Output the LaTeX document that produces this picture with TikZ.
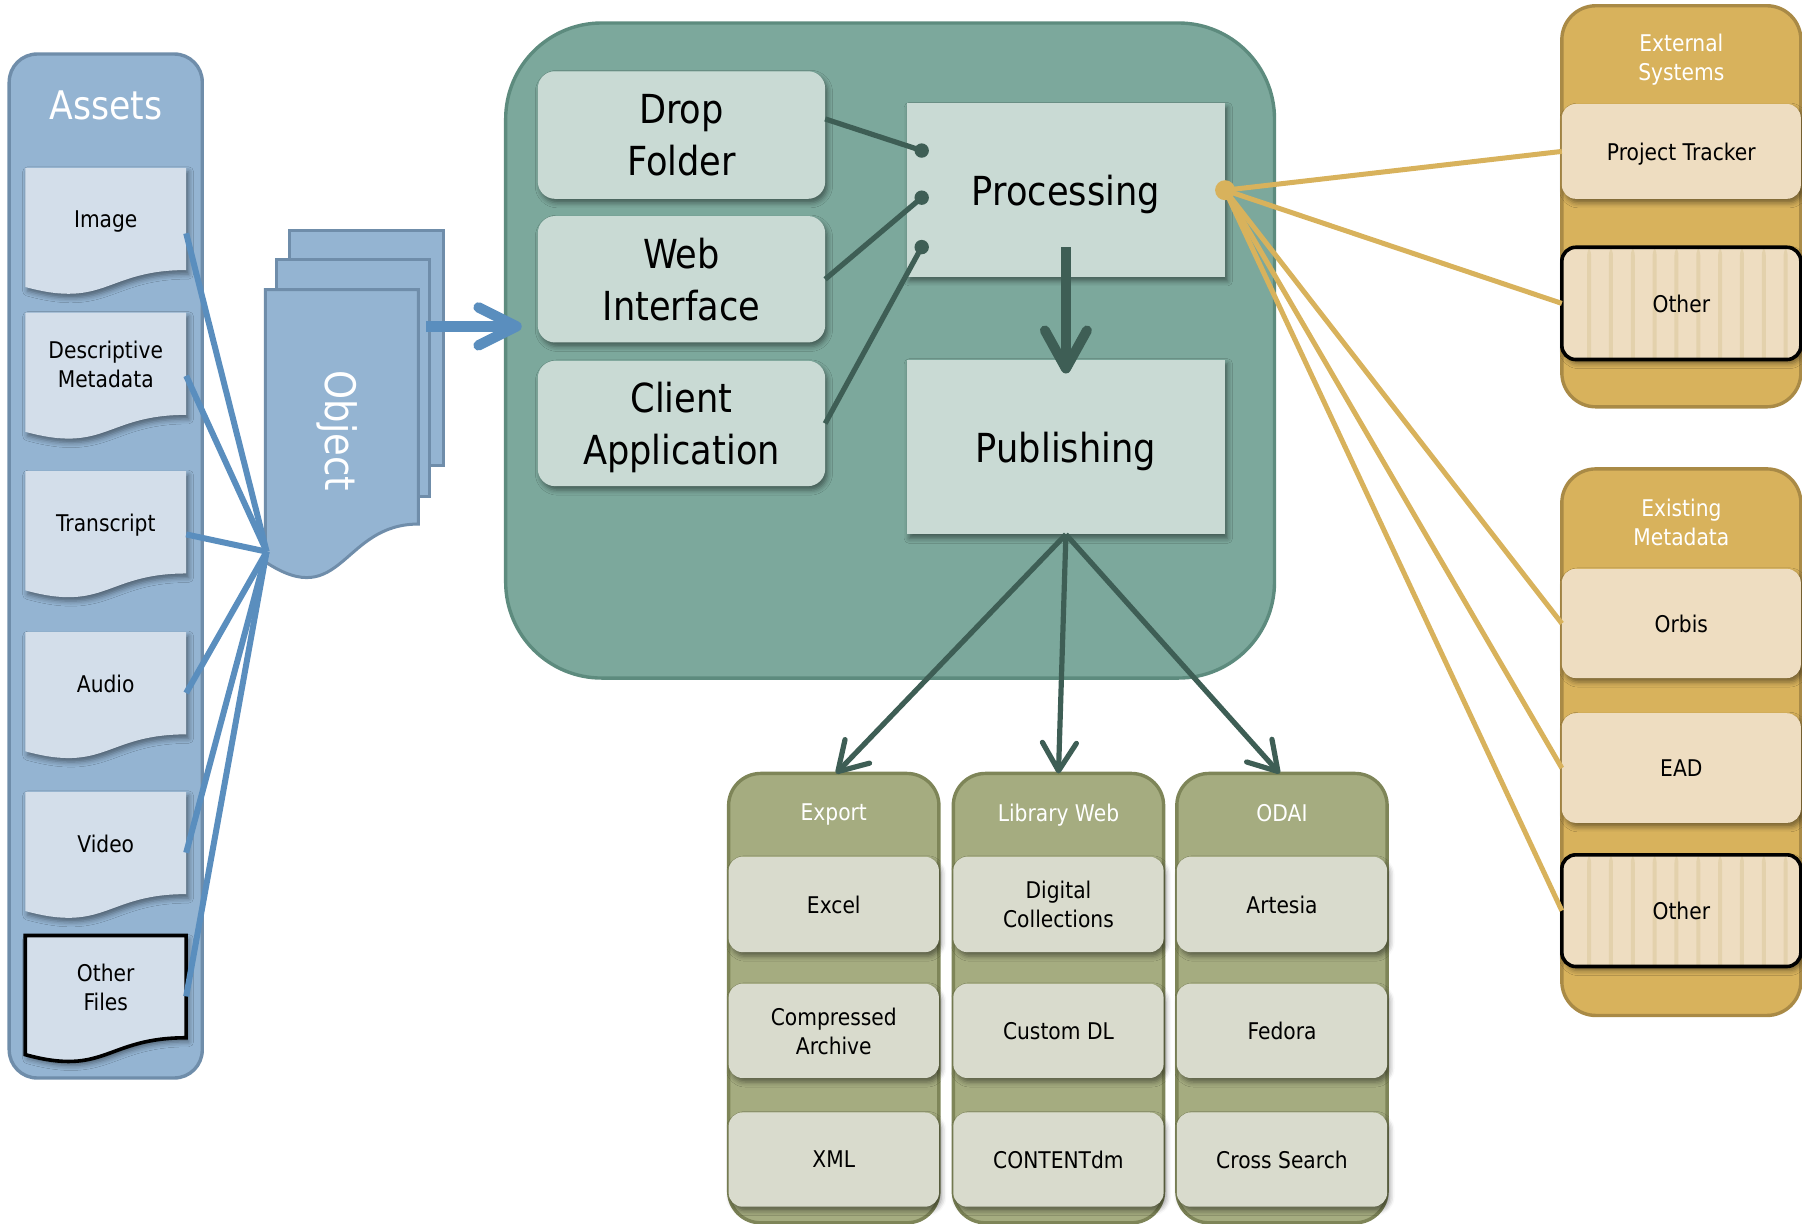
\documentclass[tikz,border=0pt]{standalone}
\usepackage{fontspec}
\setmainfont{DejaVu Sans}[FakeStretch=0.88]
\usetikzlibrary{calc,arrows.meta,shadows.blur}

\definecolor{assetFill}{HTML}{94B4D2}
\definecolor{assetEdge}{HTML}{6F8DAA}
\definecolor{docFill}{HTML}{D3DEEA}
\definecolor{linkBlue}{HTML}{5A8EBE}
\definecolor{coreFill}{HTML}{7CA89C}
\definecolor{coreEdge}{HTML}{5D8B7E}
\definecolor{stepFill}{HTML}{C9DAD4}
\definecolor{coreLine}{HTML}{3E5E55}
\definecolor{outFill}{HTML}{A5AC80}
\definecolor{outEdge}{HTML}{7E8558}
\definecolor{outItem}{HTML}{D9DBCD}
\definecolor{srcFill}{HTML}{D8B25C}
\definecolor{srcEdge}{HTML}{A98A46}
\definecolor{srcItem}{HTML}{EEDDC1}
\definecolor{srcStripe}{HTML}{E3D1AC}

\begin{document}
\begin{tikzpicture}[x=0.5745pt, y=-0.5745pt,
  every node/.style={inner sep=0pt, outer sep=0pt, align=center},
  sz/.style 2 args={minimum width=#1*0.5745pt, minimum height=#2*0.5745pt},
  body/.style={font=\fontsize{11.5}{14.4}\selectfont, text depth=0pt},
  big/.style={font=\fontsize{20}{26}\selectfont, text depth=0pt},
  softshadow/.style={blur shadow={shadow xshift=1.2pt, shadow yshift=-2pt, shadow blur radius=2.5pt, shadow opacity=45}},
  page/.style={fill=assetFill, draw=assetEdge, line width=1.5pt},
  docpage/.style={fill=docFill, softshadow},
  % a page with a wavy lower edge, its top edge at y=#1
  docat/.style={insert path={(22,#1) -- (162,#1) -- (162,#1+89)
      .. controls (92,#1+89) and (92,#1+123) .. (22,#1+103.7) -- cycle}},
  bluelink/.style={draw=linkBlue, line width=3pt},
  stepbox/.style={big, fill=stepFill, rounded corners=8.6pt, softshadow},
  stagebox/.style={big, fill=stepFill, softshadow},
  coreline/.style={draw=coreLine, line width=2.6pt},
  flowarrow/.style={draw=coreLine, line width=2.6pt, -{Straight Barb[round, length=14pt, width=17pt]}},
  outbox/.style={fill=outFill, draw=outEdge, line width=1.7pt, rounded corners=16pt},
  outitem/.style={body, fill=outItem, rounded corners=7pt, softshadow},
  srcbox/.style={fill=srcFill, draw=srcEdge, line width=1.7pt, rounded corners=17pt},
  srcitem/.style={body, fill=srcItem, rounded corners=7pt, softshadow},
  striped/.style={draw=black, line width=1.8pt, path picture={
      \foreach \i in {0,...,9}
        \fill[srcStripe] ($(path picture bounding box.north west)+(22+\i*19,-5)$) rectangle +(3.5,120);}},
  goldlink/.style={draw=srcFill, line width=2.5pt},
  title/.style={body, text=white}
]
\useasboundingbox (0,0) rectangle (1568,1065);

% ---------- Assets column ----------
\node[sz={168}{891}, fill=assetFill, draw=assetEdge, line width=1.7pt, rounded corners=14pt] (assets) at (92,492.5) {};
\node[font=\fontsize{19.7}{24}\selectfont, text=white] (assets-t) at (92,92) {Assets};

\foreach \t in {146,272,410,550,689}
  \path[docpage, docat=\t];
\path[docpage, draw=black, line width=1.8pt, docat=814];

\node[body, sz={140}{90}] (img) at (92,191) {Image};
\node[body, sz={140}{90}] (desc) at (92,317) {Descriptive\\Metadata};
\node[body, sz={140}{90}] (trans) at (92,455) {Transcript};
\node[body, sz={140}{90}] (audio) at (92,595) {Audio};
\node[body, sz={140}{90}] (video) at (92,734) {Video};
\node[body, sz={140}{90}] (other) at (92,859) {Other\\Files};

% ---------- Object stack ----------
\node[page, sz={134}{204}] (pgback) at (319,303) {};
\node[page, sz={133}{206}] (pgmid) at (307.5,329) {};
\path[page] (231,252) -- (364,252) -- (364,456)
  .. controls (297.5,456) and (297.5,533) .. (231,489) -- cycle;
\node[sz={133}{246}] (obj) at (297.5,375) {};
\node[font=\fontsize{21}{21}\selectfont, text=white, rotate=-90] (obj-t) at (293,375) {Object};

\coordinate (objin) at ($(obj.west)+(1,105)$);
\foreach \d/\dy in {img/12, desc/10, trans/10, audio/8, video/8, other/8}
  \draw[bluelink] ($(\d.east)+(0,\dy)$) -- (objin);

% ---------- Core ----------
\node[sz={669}{570}, fill=coreFill, draw=coreEdge, line width=1.7pt, rounded corners=48pt] (core) at (774.5,305) {};

\coordinate (pgout) at ($(pgmid.east)+(-3,-45)$);
\draw[linkBlue, line width=5.2pt, -{Straight Barb[round, length=19pt, width=19pt]}]
  (pgout) -- ($(pgout -| core.west)+(14,0)$);

\node[stepbox, sz={250}{111}] (drop) at (593,117.5) {Drop\\Folder};
\node[stepbox, sz={250}{110}] (web) at (593,243) {Web\\Interface};
\node[stepbox, sz={250}{109}] (client) at (593,368.5) {Client\\Application};

\node[stagebox, sz={277}{151}] (proc) at (927.5,165.5) {Processing};
\node[stagebox, sz={277}{152}] (pub) at (927.5,389) {Publishing};

\coordinate (in1) at ($(proc.west)+(13,-34.5)$);
\coordinate (in2) at ($(proc.west)+(13,6.5)$);
\coordinate (in3) at ($(proc.west)+(13,49.5)$);
\draw[coreline] ($(drop.east)+(0,-14)$) -- (in1);
\draw[coreline] (web.east) -- (in2);
\draw[coreline] (client.east) -- (in3);
\foreach \c in {in1,in2,in3} \fill[coreLine] (\c) circle (3.6pt);

\draw[coreLine, line width=5pt, -{Straight Barb[round, length=19pt, width=21pt]}]
  ($(proc.south)+(0,-26)$) -- ($(pub.north)+(0,12)$);

% ---------- Outputs ----------
\node[outbox, sz={183}{391}] (export) at (725.5,868.5) {};
\node[outbox, sz={183}{391}] (libweb) at (921,868.5) {};
\node[outbox, sz={183}{391}] (odai) at (1115.5,868.5) {};

\node[title] (export-t) at ($(export.north)+(0,34)$) {Export};
\node[title] (libweb-t) at ($(libweb.north)+(0,34)$) {Library Web};
\node[title] (odai-t) at ($(odai.north)+(0,34)$) {ODAI};

\node[outitem, sz={183}{83}] (excel) at ($(export.north)+(0,114)$) {Excel};
\node[outitem, sz={183}{82}] (archive) at ($(export.north)+(0,224)$) {Compressed\\Archive};
\node[outitem, sz={183}{82}] (xml) at ($(export.north)+(0,336)$) {XML};

\node[outitem, sz={183}{83}] (digcol) at ($(libweb.north)+(0,114)$) {Digital\\Collections};
\node[outitem, sz={183}{82}] (customdl) at ($(libweb.north)+(0,224)$) {Custom DL};
\node[outitem, sz={183}{82}] (contentdm) at ($(libweb.north)+(0,336)$) {CONTENTdm};

\node[outitem, sz={183}{83}] (artesia) at ($(odai.north)+(0,114)$) {Artesia};
\node[outitem, sz={183}{82}] (fedora) at ($(odai.north)+(0,224)$) {Fedora};
\node[outitem, sz={183}{82}] (cross) at ($(odai.north)+(0,336)$) {Cross Search};

\draw[flowarrow] (pub.south) -- ($(export.north)+(2,0)$);
\draw[flowarrow] (pub.south) -- (libweb.north);
\draw[flowarrow] (pub.south) -- ($(odai.north)+(-2,0)$);

% ---------- Sources ----------
\node[srcbox, sz={208}{349}] (ext) at (1463,179.5) {};
\node[title] (ext-t) at (1463,50) {External\\Systems};
\node[srcitem, sz={208}{82.5}] (tracker) at (1463,131.75) {Project Tracker};
\node[srcitem, striped, sz={208}{97.7}] (extother) at (1463,264) {Other};

\node[srcbox, sz={208}{475.6}] (meta) at (1463,645.8) {};
\node[title] (meta-t) at (1463,454.5) {Existing\\Metadata};
\node[srcitem, sz={208}{95}] (orbis) at (1463,542.5) {Orbis};
\node[srcitem, sz={208}{95.4}] (ead) at (1463,668.3) {EAD};
\node[srcitem, striped, sz={208}{97.2}] (metaother) at (1463,792.4) {Other};

\foreach \t in {tracker,extother,orbis,ead,metaother}
  \draw[goldlink] (proc.east) -- (\t.west);
\fill[srcFill] (proc.east) circle (5pt);

\end{tikzpicture}
\end{document}
